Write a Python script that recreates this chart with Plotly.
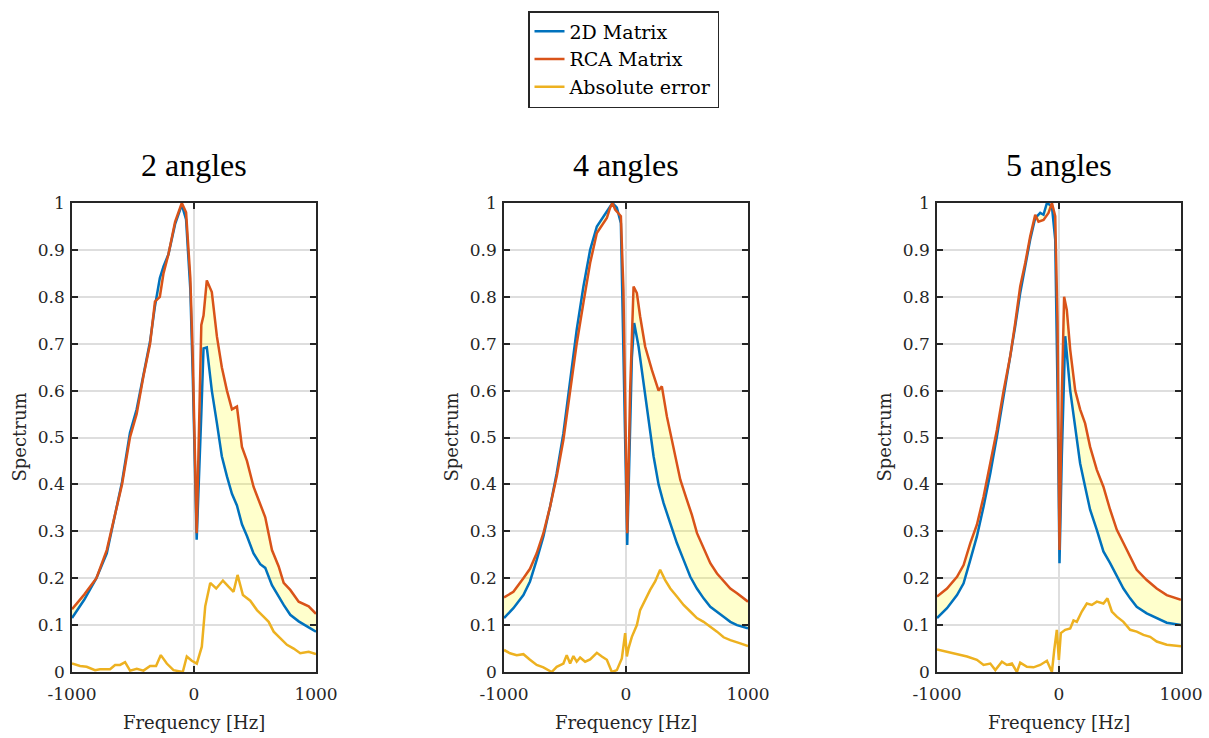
import plotly.graph_objects as go

# ---------------- data ----------------
panel_titles = ["2 angles", "4 angles", "5 angles"]
x_ticks = [-1000, 0, 1000]
x_tick_labels = ["-1000", "0", "1000"]

# Panel 1 (2 angles)
p1_freq = [-1000, -900, -800, -715, -590, -525, -470, -415, -360, -320, -280, -250, -210, -155,
           -100, -65, -30, -10, 22, 60, 78, 105, 146, 188, 228, 270, 311, 352, 393, 434, 488,
           543, 584, 639, 694, 735, 789, 858, 940, 1000]
p1_rca = [0.134, 0.165, 0.20, 0.26, 0.40, 0.50, 0.55, 0.63, 0.70, 0.79, 0.80, 0.85, 0.89, 0.96,
          1.0, 0.98, 0.84, 0.67, 0.296, 0.74, 0.76, 0.835, 0.81, 0.715, 0.65, 0.60, 0.56, 0.566,
          0.48, 0.45, 0.395, 0.36, 0.33, 0.26, 0.225, 0.19, 0.175, 0.15, 0.14, 0.124]
p1_2d = [0.115, 0.154, 0.20, 0.253, 0.405, 0.51, 0.56, 0.635, 0.705, 0.78, 0.84, 0.865, 0.89, 0.955,
         0.996, 0.965, 0.815, 0.63, 0.282, 0.55, 0.69, 0.692, 0.60, 0.53, 0.46, 0.417, 0.38, 0.355,
         0.315, 0.29, 0.253, 0.23, 0.222, 0.185, 0.16, 0.143, 0.122, 0.108, 0.095, 0.086]
p1_err_freq = [-1000, -934, -880, -811, -770, -688, -647, -606, -565, -524, -469, -414, -360, -311,
               -272, -223, -168, -114, -92, -59, -18, 23, 64, 92, 133, 182, 237, 283, 324, 357, 401,
               461, 516, 570, 612, 653, 707, 762, 817, 871, 940, 1000]
p1_err = [0.018, 0.013, 0.011, 0.004, 0.006, 0.006, 0.015, 0.015, 0.021, 0.003, 0.007, 0.003, 0.013,
          0.013, 0.036, 0.018, 0.004, 0.0, 0.0, 0.033, 0.024, 0.018, 0.054, 0.14, 0.19, 0.178, 0.195,
          0.182, 0.171, 0.207, 0.164, 0.152, 0.132, 0.118, 0.107, 0.086, 0.072, 0.058, 0.05, 0.04,
          0.043, 0.038]

# Panel 2 (4 angles)
p2_rca_freq = [-1000, -923, -841, -787, -732, -677, -622, -568, -513, -458, -404, -349, -294, -239,
               -185, -157, -130, -111, -89, -62, -42, -21, 10, 34, 62, 89, 116, 157, 212, 267, 294,
               335, 390, 445, 499, 540, 582, 636, 691, 746, 800, 855, 910, 1000]
p2_rca = [0.159, 0.171, 0.20, 0.22, 0.253, 0.296, 0.353, 0.417, 0.495, 0.595, 0.70, 0.787, 0.872,
          0.936, 0.957, 0.968, 0.99, 1.0, 0.986, 0.979, 0.972, 0.815, 0.296, 0.60, 0.822, 0.808,
          0.758, 0.694, 0.644, 0.60, 0.609, 0.545, 0.48, 0.41, 0.367, 0.335, 0.296, 0.264, 0.232,
          0.21, 0.193, 0.178, 0.168, 0.15]
p2_2d_freq = [-1000, -923, -841, -787, -732, -677, -622, -568, -513, -458, -404, -349, -294, -239,
              -185, -130, -111, -75, -42, -21, 10, 48, 67, 103, 144, 185, 226, 267, 308, 363, 417,
              472, 527, 581, 636, 691, 746, 800, 855, 910, 1000]
p2_2d = [0.115, 0.136, 0.164, 0.193, 0.239, 0.289, 0.353, 0.424, 0.509, 0.623, 0.73, 0.822, 0.90,
         0.95, 0.971, 0.99, 1.0, 0.99, 0.957, 0.68, 0.271, 0.67, 0.744, 0.694, 0.616, 0.538, 0.46,
         0.40, 0.36, 0.317, 0.275, 0.239, 0.203, 0.178, 0.157, 0.139, 0.129, 0.118, 0.107, 0.10,
         0.093]
p2_err_freq = [-1000, -951, -896, -841, -787, -732, -677, -609, -568, -513, -486, -458, -431, -404,
               -376, -335, -294, -239, -198, -157, -116, -75, -34, -7, 7, 21, 48, 89, 116, 157, 198,
               239, 280, 321, 363, 417, 472, 527, 581, 636, 691, 746, 800, 855, 937, 1000]
p2_err = [0.047, 0.04, 0.036, 0.038, 0.026, 0.015, 0.01, 0.0, 0.011, 0.018, 0.036, 0.018, 0.034,
          0.022, 0.031, 0.022, 0.027, 0.041, 0.033, 0.026, 0.0, 0.004, 0.029, 0.083, 0.033, 0.051,
          0.075, 0.10, 0.132, 0.154, 0.175, 0.193, 0.218, 0.196, 0.178, 0.161, 0.143, 0.129, 0.115,
          0.107, 0.097, 0.086, 0.074, 0.068, 0.061, 0.055]

# Panel 3 (5 angles)
p3_rca_freq = [-1000, -918, -836, -782, -727, -673, -618, -563, -509, -454, -400, -359, -318, -277,
               -236, -195, -168, -127, -86, -58, -31, -12, 4, 23, 42, 64, 92, 133, 173, 214, 255,
               310, 364, 419, 474, 528, 583, 637, 719, 801, 883, 1000]
p3_rca = [0.161, 0.178, 0.203, 0.228, 0.275, 0.314, 0.374, 0.445, 0.516, 0.60, 0.673, 0.744, 0.822,
          0.872, 0.929, 0.975, 0.96, 0.964, 0.979, 1.0, 0.972, 0.744, 0.26, 0.587, 0.80, 0.772,
          0.687, 0.60, 0.56, 0.53, 0.48, 0.431, 0.395, 0.346, 0.303, 0.275, 0.246, 0.218, 0.196,
          0.178, 0.164, 0.154]
p3_2d_freq = [-1000, -918, -836, -782, -727, -673, -618, -563, -509, -454, -400, -359, -318, -277,
              -236, -195, -154, -127, -99, -58, -31, -12, 4, 23, 51, 92, 133, 173, 214, 255, 310,
              364, 419, 474, 528, 583, 637, 719, 801, 883, 1000]
p3_2d = [0.115, 0.136, 0.164, 0.189, 0.239, 0.289, 0.353, 0.424, 0.502, 0.587, 0.673, 0.737, 0.808,
         0.865, 0.922, 0.968, 0.979, 0.975, 1.0, 0.993, 0.922, 0.60, 0.232, 0.46, 0.716, 0.60,
         0.516, 0.445, 0.395, 0.346, 0.303, 0.257, 0.232, 0.203, 0.178, 0.157, 0.139, 0.125, 0.115,
         0.105, 0.10]
p3_err_freq = [-1000, -918, -836, -754, -673, -618, -563, -522, -468, -427, -386, -345, -318, -263,
               -209, -154, -99, -58, -39, -18, -1, 15, 51, 92, 119, 146, 187, 228, 269, 310, 364,
               397, 433, 474, 528, 583, 637, 692, 747, 801, 883, 1000]
p3_err = [0.048, 0.043, 0.038, 0.033, 0.026, 0.015, 0.018, 0.004, 0.022, 0.015, 0.018, 0.0, 0.02,
          0.011, 0.01, 0.015, 0.024, 0.0, 0.047, 0.09, 0.026, 0.083, 0.09, 0.093, 0.11, 0.107,
          0.129, 0.146, 0.143, 0.15, 0.146, 0.157, 0.129, 0.118, 0.107, 0.09, 0.086, 0.079, 0.075,
          0.065, 0.058, 0.055]

panels = [
    dict(f2d=p1_freq, v2d=p1_2d, frca=p1_freq, vrca=p1_rca, ferr=p1_err_freq, verr=p1_err),
    dict(f2d=p2_2d_freq, v2d=p2_2d, frca=p2_rca_freq, vrca=p2_rca, ferr=p2_err_freq, verr=p2_err),
    dict(f2d=p3_2d_freq, v2d=p3_2d, frca=p3_rca_freq, vrca=p3_rca, ferr=p3_err_freq, verr=p3_err),
]

# ---------------- style ----------------
W, H = 1209, 738
C_2D = "#0072BD"
C_RCA = "#D95319"
C_ERR = "#EDB120"
C_FILL = "rgba(255,255,0,0.2)"
AX = "#262626"
GRID = "rgb(222,222,222)"
SERIF = "DejaVu Serif"
TITLE_FONT = "Liberation Serif"

left_px = [72, 504, 937]
width_px = 244
top_px, bot_px = 203, 672

fig = go.Figure()
annotations = []
for i, p in enumerate(panels):
    n = "" if i == 0 else str(i + 1)
    xref, yref = "x" + n, "y" + n
    fig.add_trace(go.Scatter(
        x=list(p["f2d"]) + list(p["frca"])[::-1],
        y=list(p["v2d"]) + list(p["vrca"])[::-1],
        xaxis=xref, yaxis=yref, mode="lines", fill="toself", fillcolor=C_FILL,
        line=dict(width=0), showlegend=False, hoverinfo="skip"))
    fig.add_trace(go.Scatter(x=p["f2d"], y=p["v2d"], xaxis=xref, yaxis=yref, mode="lines",
                             line=dict(color=C_2D, width=2.5), name="2D Matrix",
                             showlegend=(i == 0)))
    fig.add_trace(go.Scatter(x=p["frca"], y=p["vrca"], xaxis=xref, yaxis=yref, mode="lines",
                             line=dict(color=C_RCA, width=2.5), name="RCA Matrix",
                             showlegend=(i == 0)))
    fig.add_trace(go.Scatter(x=p["ferr"], y=p["verr"], xaxis=xref, yaxis=yref, mode="lines",
                             line=dict(color=C_ERR, width=2.5), name="Absolute error",
                             showlegend=(i == 0)))

    x0 = left_px[i] / W
    x1 = (left_px[i] + width_px) / W
    axis_common = dict(showline=True, linecolor=AX, linewidth=1.5, mirror="ticks",
                       ticks="inside", ticklen=6, tickwidth=1.5, tickcolor=AX,
                       showgrid=True, gridcolor=GRID, gridwidth=1.5, zeroline=False,
                       tickfont=dict(family=SERIF, size=17, color=AX), automargin=False)
    fig.update_layout({
        "xaxis" + n: dict(domain=[x0, x1], range=[-1000, 1000], tickmode="array",
                          tickvals=x_ticks, ticktext=x_tick_labels, ticklabelstandoff=6,
                          anchor=yref, **axis_common),
        "yaxis" + n: dict(domain=[1 - bot_px / H, 1 - top_px / H], range=[0, 1], dtick=0.1,
                          tick0=0, anchor=xref, ticklabelstandoff=2, **axis_common),
    })
    cx = (left_px[i] + width_px / 2) / W
    annotations.append(dict(text=panel_titles[i], x=cx, y=1 - 165 / H, xref="paper",
                            yref="paper", showarrow=False, xanchor="center", yanchor="middle",
                            font=dict(family=TITLE_FONT, size=32, color="black")))
    annotations.append(dict(text="Spectrum", x=(left_px[i] - 53) / W, y=1 - 437.5 / H,
                            xref="paper", yref="paper", showarrow=False, textangle=-90,
                            xanchor="center", yanchor="middle",
                            font=dict(family=SERIF, size=18, color=AX)))
    annotations.append(dict(text="Frequency [Hz]", x=cx, y=1 - 722 / H, xref="paper",
                            yref="paper", showarrow=False, xanchor="center", yanchor="middle",
                            font=dict(family=SERIF, size=18, color=AX)))

fig.update_layout(
    width=W, height=H, margin=dict(l=0, r=0, t=0, b=0),
    paper_bgcolor="white", plot_bgcolor="white",
    annotations=annotations,
    legend=dict(x=528 / W, y=1 - 11 / H, xanchor="left", yanchor="top",
                bordercolor=AX, borderwidth=1.5, bgcolor="white",
                font=dict(family=SERIF, size=19, color="black"),
                tracegroupgap=0),
)

fig.write_html("out.html")
